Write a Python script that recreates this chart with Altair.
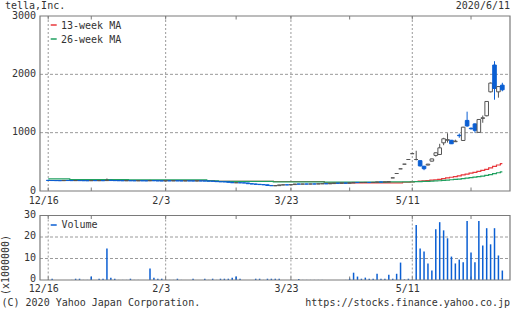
import altair as alt
import pandas as pd

# ---------------- data ----------------
holidays = ["2019-12-31", "2020-01-01", "2020-01-02", "2020-01-03", "2020-01-13",
            "2020-02-11", "2020-02-24", "2020-03-20", "2020-04-29", "2020-05-04",
            "2020-05-05", "2020-05-06"]
trade_days = [d for d in pd.bdate_range("2019-12-16", "2020-06-11")
              if d.strftime("%Y-%m-%d") not in holidays]
dates = [f"{d.month}/{d.day}" for d in trade_days]

opens = [184, 180, 179, 178, 177, 181, 179, 178, 179, 178, 177, 176, 179, 177, 178, 178, 184, 179, 178, 177,
         176, 177, 176, 175, 176, 175, 174, 179, 175, 174, 173, 175, 174, 175, 174, 173, 174, 173, 172, 173,
         172, 171, 169, 166, 160, 158, 157, 150, 141, 142, 140, 138, 125, 120, 115, 110, 106, 95, 90, 92,
         104, 106, 105, 110, 120, 118, 120, 119, 121, 120, 124, 125, 124, 127, 134, 133, 135, 134, 138, 147,
         145, 146, 147, 146, 148, 155, 154, 156, 225, 300, 380, 460, 540, 640, 540, 520, 425, 445, 512, 610,
         626, 826, 870, 870, 845, 955, 866, 1210, 1075, 1150, 1005, 1245, 1290, 1700, 2160, 1700, 1815]
highs = [186, 182, 181, 180, 182, 183, 181, 180, 181, 180, 179, 180, 180, 179, 179, 215, 186, 181, 180, 179,
         178, 179, 178, 177, 178, 177, 190, 181, 177, 176, 176, 177, 176, 177, 176, 175, 176, 175, 174, 175,
         174, 173, 171, 167, 162, 160, 158, 151, 145, 144, 142, 139, 127, 124, 118, 113, 108, 98, 96, 106,
         110, 108, 112, 122, 124, 122, 123, 122, 124, 126, 127, 127, 128, 136, 137, 136, 138, 140, 150, 150,
         148, 149, 149, 149, 158, 157, 158, 162, 225, 300, 380, 460, 540, 640, 690, 525, 430, 466, 555, 660,
         809, 912, 990, 875, 880, 985, 1100, 1360, 1090, 1160, 1230, 1294, 1540, 1860, 2225, 1800, 1855]
lows = [179, 178, 177, 176, 176, 178, 177, 176, 177, 177, 175, 175, 176, 176, 176, 177, 178, 177, 176, 175,
        174, 175, 174, 173, 174, 173, 173, 174, 173, 172, 171, 173, 172, 173, 172, 171, 172, 171, 170, 171,
        170, 168, 166, 158, 156, 154, 148, 138, 138, 136, 134, 122, 118, 112, 108, 104, 92, 86, 85, 90,
        100, 102, 103, 108, 115, 116, 117, 117, 118, 119, 122, 122, 123, 126, 131, 130, 132, 133, 137, 143,
        143, 144, 144, 145, 147, 152, 153, 154, 225, 300, 380, 460, 540, 640, 525, 420, 357, 440, 505, 590,
        620, 785, 830, 805, 840, 912, 860, 1100, 1050, 1000, 1000, 1170, 1280, 1690, 1565, 1600, 1710]
closes = [180, 179, 178, 177, 181, 179, 178, 179, 178, 177, 176, 179, 177, 178, 177, 184, 179, 178, 177, 176,
          177, 176, 175, 176, 175, 174, 179, 175, 174, 173, 175, 174, 175, 174, 173, 174, 173, 172, 173, 172,
          171, 169, 167, 160, 158, 157, 150, 141, 142, 140, 138, 125, 120, 115, 110, 106, 95, 90, 92, 104,
          106, 105, 110, 120, 118, 120, 119, 121, 120, 124, 125, 124, 127, 134, 133, 135, 134, 138, 147, 145,
          146, 147, 146, 148, 155, 154, 156, 158, 225, 300, 380, 460, 540, 640, 540, 430, 382, 460, 550, 655,
          740, 895, 880, 810, 855, 948, 1094, 1115, 1068, 1040, 1226, 1255, 1535, 1850, 1757, 1790, 1735]
# volume in millions of shares
volumes = [0.05, 0.6, 0.05, 0.05, 0.05, 0.05, 0.05, 0.6, 0.6, 0.05, 0.05, 1.6, 0.05, 0.6, 0.6, 14.7, 1.1, 0.6, 0.05, 0.05,
           0.05, 0.6, 0.05, 0.05, 0.05, 0.05, 5.3, 1.1, 0.6, 0.6, 0.05, 0.05, 0.05, 0.6, 0.05, 0.05, 0.05, 0.6, 0.05, 0.05,
           0.6, 0.05, 0.6, 0.05, 0.6, 0.6, 0.6, 1.1, 1.6, 0.6, 0.05, 0.05, 0.05, 0.6, 0.6, 0.05, 0.6, 0.6, 0.6, 0.6,
           0.05, 0.05, 0.05, 0.05, 0.5, 0.05, 0.05, 0.05, 0.05, 0.05, 0.05, 0.05, 0.05, 0.05, 0.05, 0.05, 0.05, 0.6, 3.4, 1.6,
           0.6, 1.1, 0.6, 0.6, 2.9, 0.6, 0.6, 2.5, 0.6, 2.9, 8.1, 0.3, 0.6, 0.05, 25.6, 14.7, 13.3, 7.7, 4.4, 23.6,
           26.9, 23.1, 19.4, 10.9, 7.7, 9.5, 8.3, 27.4, 12.8, 8.3, 27.4, 16.1, 24.1, 16.6, 24.1, 11.4, 4.4]
ma13 = [180] * 43 + [165] * 15 + [163] * 13 + [138] * 12 + [140] * 8 + [150] * 2 + \
       [158, 163, 168, 172, 178, 185, 193, 201, 212, 224, 236, 248, 261, 276, 291, 306, 320, 336, 352, 372,
        398, 422, 446, 470]
ma26 = [209] * 6 + [194] * 15 + [191] * 20 + [176] * 3 + [165] * 14 + [158] * 13 + [152] * 16 + [155] * 6 + \
       [158, 160, 162, 164, 166, 169, 172, 176, 181, 187, 193, 199, 205, 212, 220, 228, 237, 246, 256, 267,
        281, 297, 313, 329]

tick_dates = ["12/16", "1/6", "2/3", "3/2", "3/23", "4/13", "5/11", "6/1"]
label_dates = ["12/16", "2/3", "3/23", "5/11"]
price_ticks = [0, 1000, 2000, 3000]
price_grid = [1000, 2000]
vol_ticks = [0, 10, 20, 30]
vol_grid = [10, 20]

# ---------------- styling ----------------
FONT = "DejaVu Sans Mono"
TXT = "#333333"
FRAME = "#7a7a7a"
GRID = "#9a9a9a"
BLUE = "#0b5fd3"
DARK = "#555555"
RED = "#e8383d"
GREEN = "#20a060"
W, H = 470, 264
MAIN_H = 175
VTOP, VBOT = 199.5, 264

df = pd.DataFrame({"idx": range(len(dates)), "date": dates, "open": opens, "high": highs,
                   "low": lows, "close": closes, "volume": volumes, "ma13": ma13, "ma26": ma26})
df["fillc"] = ["white" if c >= o else BLUE for o, c in zip(opens, closes)]
df["strokec"] = [DARK if c >= o else BLUE for o, c in zip(opens, closes)]

ticks_df = pd.DataFrame({"idx": [dates.index(d) for d in tick_dates]})
labels_df = pd.DataFrame({"idx": [dates.index(d) for d in label_dates], "label": label_dates})
one = pd.DataFrame({"a": [0]})

xs = alt.Scale(domain=[-0.82, 116.68], nice=False, zero=False)
X = alt.X("idx:Q", scale=xs, axis=None)


def PY(f):
    return alt.Y(f, scale=alt.Scale(domain=[0, 3000], range=[MAIN_H, 0], nice=False, zero=False), axis=None)


def VY(f):
    return alt.Y(f, scale=alt.Scale(domain=[0, 30], range=[VBOT, VTOP], nice=False, zero=True), axis=None)


base = alt.Chart(df)
layers = []

# gridlines
layers.append(alt.Chart(pd.DataFrame({"v": price_grid})).mark_rule(color=GRID, strokeDash=[3, 2], strokeWidth=1)
              .encode(y=PY("v:Q"), x=alt.value(0), x2=alt.value(W)))
layers.append(alt.Chart(pd.DataFrame({"v": vol_grid})).mark_rule(color=GRID, strokeDash=[3, 2], strokeWidth=1)
              .encode(y=VY("v:Q"), x=alt.value(0), x2=alt.value(W)))
layers.append(alt.Chart(labels_df).mark_rule(color=GRID, strokeDash=[2, 2], strokeWidth=1)
              .encode(x=X, y=alt.value(0), y2=alt.value(MAIN_H)))
layers.append(alt.Chart(labels_df).mark_rule(color=GRID, strokeDash=[2, 2], strokeWidth=1)
              .encode(x=X, y=alt.value(VTOP), y2=alt.value(VBOT)))

# tick marks
for y1, y2 in [(0, 3.5), (MAIN_H - 3.5, MAIN_H), (VTOP, VTOP + 3.5), (VBOT - 3.5, VBOT)]:
    layers.append(alt.Chart(ticks_df).mark_rule(color=FRAME, strokeWidth=1)
                  .encode(x=X, y=alt.value(y1), y2=alt.value(y2)))

# moving averages
layers.append(base.mark_line(interpolate="step", color=RED, strokeWidth=1.2).encode(x=X, y=PY("ma13:Q")))
layers.append(base.mark_line(interpolate="step", color=GREEN, strokeWidth=1.2).encode(x=X, y=PY("ma26:Q")))

# candles
layers.append(base.mark_rule(strokeWidth=1).encode(
    x=X, y=PY("low:Q"), y2="high:Q", color=alt.Color("strokec:N", scale=None)))
layers.append(base.mark_bar(width=3.6, strokeWidth=1).encode(
    x=X, y=PY("open:Q"), y2="close:Q",
    fill=alt.Fill("fillc:N", scale=None), stroke=alt.Stroke("strokec:N", scale=None)))

# volume
layers.append(base.mark_bar(width=1.5, color=BLUE).encode(x=X, y=VY("volume:Q")))

# frames
for y1, y2 in [(0, MAIN_H), (VTOP, VBOT)]:
    layers.append(alt.Chart(one).mark_rect(fill="transparent", stroke=FRAME, strokeWidth=1.2)
                  .encode(x=alt.value(0), x2=alt.value(W), y=alt.value(y1), y2=alt.value(y2)))

# axis labels
tx = dict(font=FONT, fontSize=10, color=TXT)
layers.append(alt.Chart(pd.DataFrame({"v": price_ticks})).mark_text(align="right", baseline="middle", dy=-0.5, **tx)
              .encode(y=PY("v:Q"), x=alt.value(-4), text=alt.Text("v:Q", format="d")))
layers.append(alt.Chart(pd.DataFrame({"v": vol_ticks})).mark_text(align="right", baseline="middle", dy=-1, **tx)
              .encode(y=VY("v:Q"), x=alt.value(-4), text=alt.Text("v:Q", format="d")))
layers.append(alt.Chart(labels_df).mark_text(align="center", baseline="middle", dx=-4.5, **tx)
              .encode(x=X, y=alt.value(185.2), text="label:N"))
layers.append(alt.Chart(labels_df).mark_text(align="center", baseline="middle", dx=-4.5, **tx)
              .encode(x=X, y=alt.value(273.2), text="label:N"))

# titles / footer
texts = [
    ("tella,Inc.", -35, -10, "left"),
    ("2020/6/11", 470, -10, "right"),
    ("(C) 2020 Yahoo Japan Corporation.", -38.5, 286.8, "left"),
    ("https://stocks.finance.yahoo.co.jp", 470, 287, "right"),
    ("13-week MA", 21, 9.5, "left"),
    ("26-week MA", 21, 23.5, "left"),
    ("Volume", 21.5, 209, "left"),
]
for t, x, y, al in texts:
    layers.append(alt.Chart(one).mark_text(align=al, baseline="middle", text=t, **tx)
                  .encode(x=alt.value(x), y=alt.value(y)))
layers.append(alt.Chart(one).mark_text(align="center", baseline="middle", text="(x1000000)", angle=270, **tx)
              .encode(x=alt.value(-34.2), y=alt.value(249)))

# legend swatches
for y, c in [(9, RED), (23, GREEN), (209, BLUE)]:
    layers.append(alt.Chart(one).mark_rule(color=c, strokeWidth=1.5)
                  .encode(x=alt.value(10.7), x2=alt.value(16.7), y=alt.value(y)))

chart = alt.layer(*layers).resolve_scale(y="independent").properties(
    width=W, height=H,
    padding={"left": 40, "top": 16, "right": 2, "bottom": 30},
    autosize=alt.AutoSizeParams(type="none"),
    background="white",
).configure_view(stroke=None)

chart.save("out.html", embed_options={"renderer": "svg", "actions": False})
